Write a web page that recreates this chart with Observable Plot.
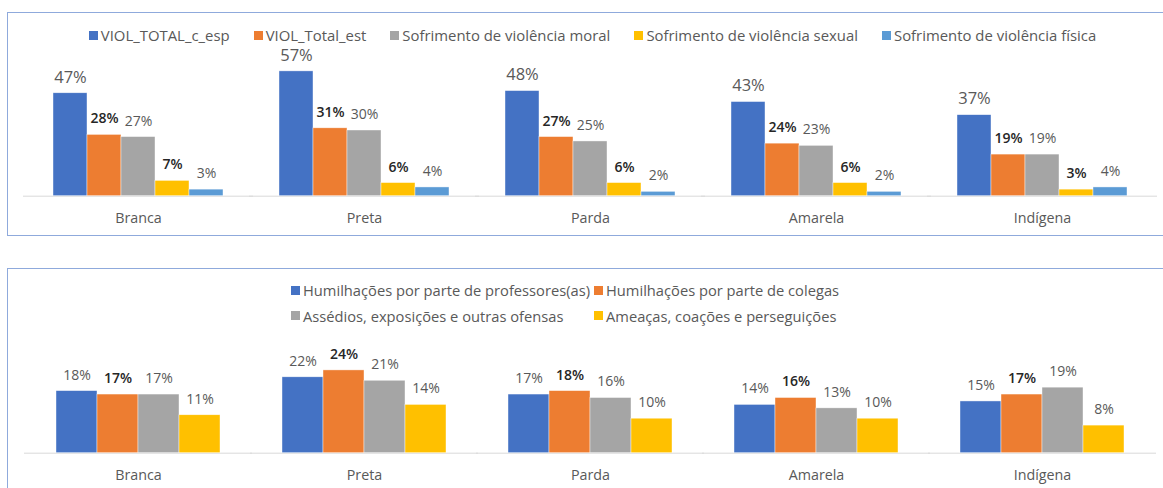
<!DOCTYPE html>
<html>
<head>
<meta charset="utf-8">
<script src="https://cdn.jsdelivr.net/npm/d3@7"></script>
<script src="https://cdn.jsdelivr.net/npm/@observablehq/plot@0.6"></script>
<style>
  html, body { margin: 0; padding: 0; background: #fff; width: 1163px; height: 488px; overflow: hidden; position: relative; font-family: "Open Sans", sans-serif; }
  .panel { position: absolute; box-sizing: border-box; border: 1px solid #8faadc; background: #fff; }
  .legend { position: absolute; color: #595959; line-height: 18px; white-space: nowrap; }
  .legend .item { display: inline-flex; align-items: center; }
  .legend .sw { width: 9px; height: 9px; display: inline-block; margin-right: 3px; }
  .chart { position: absolute; left: 0; }
  .chart svg { overflow: visible; background: transparent; }
</style>
</head>
<body>
<div class="panel" style="left:7px; top:12px; width:1200px; height:224px;"></div>
<div class="panel" style="left:7px; top:268px; width:1200px; height:260px;"></div>
<div id="legTop" class="legend" style="left:22px; width:1141px; top:26px; display:flex; justify-content:center; gap:24px; font-size:14.9px;"></div>
<div id="legBottom" class="legend" style="left:291px; top:281px; display:grid; grid-template-columns:303px auto; row-gap:7.7px; font-size:14.7px;"></div>
<div id="chartTop" class="chart" style="top:40px;"></div>
<div id="chartBottom" class="chart" style="top:330px;"></div>
<script>
const categories = ["Branca", "Preta", "Parda", "Amarela", "Indígena"];

const seriesTop = ["VIOL_TOTAL_c_esp", "VIOL_Total_est", "Sofrimento de violência moral", "Sofrimento de violência sexual", "Sofrimento de violência física"];
const violTotalCEsp = [47, 57, 48, 43, 37];
const violTotalEst = [28, 31, 27, 24, 19];
const violMoral = [27, 30, 25, 23, 19];
const violSexual = [7, 6, 6, 6, 3];
const violFisica = [3, 4, 2, 2, 4];
const colorsTop = ["#4472c4", "#ed7d31", "#a5a5a5", "#ffc000", "#5b9bd5"];

const seriesBottom = ["Humilhações por parte de professores(as)", "Humilhações por parte de colegas", "Assédios, exposições e outras ofensas", "Ameaças, coações e perseguições"];
const humProfessores = [18, 22, 17, 14, 15];
const humColegas = [17, 24, 18, 16, 17];
const assedios = [17, 21, 16, 13, 19];
const ameacas = [11, 14, 10, 10, 8];
const colorsBottom = ["#4472c4", "#ed7d31", "#a5a5a5", "#ffc000"];

function toRows(series, arrays) {
  const rows = [];
  categories.forEach((c, i) => series.forEach((s, j) => rows.push({cat: c, s, v: arrays[j][i]})));
  return rows;
}
const topRows = toRows(seriesTop, [violTotalCEsp, violTotalEst, violMoral, violSexual, violFisica]);
const bottomRows = toRows(seriesBottom, [humProfessores, humColegas, assedios, ameacas]);

const grey = "#595959", dark = "#262626";
const topLabelStyles = [
  {fontSize: 16.5, fontWeight: "normal", fill: grey},
  {fontSize: 14, fontWeight: 600, fill: dark},
  {fontSize: 14, fontWeight: "normal", fill: grey},
  {fontSize: 14, fontWeight: 600, fill: dark},
  {fontSize: 14, fontWeight: "normal", fill: grey}
];
const bottomLabelStyles = [
  {fontSize: 14, fontWeight: "normal", fill: grey},
  {fontSize: 14, fontWeight: 600, fill: dark},
  {fontSize: 14, fontWeight: "normal", fill: grey},
  {fontSize: 14, fontWeight: "normal", fill: grey}
];

function makeChart({rows, series, colors, styles, height, marginTop, marginBottom, yMax, padInner, ruleInset}) {
  return Plot.plot({
    width: 1163,
    height,
    marginLeft: 23,
    marginRight: 6,
    marginTop,
    marginBottom,
    style: {fontFamily: "Open Sans, sans-serif", background: "transparent", overflow: "visible"},
    fx: {domain: categories, paddingInner: padInner, paddingOuter: padInner / 2, axis: null},
    x: {domain: series, padding: 0, axis: null},
    y: {domain: [0, yMax], axis: null},
    color: {domain: series, range: colors},
    marks: [
      Plot.ruleY([0], {stroke: "#d9d9d9", strokeWidth: 1, insetLeft: -ruleInset, insetRight: -ruleInset}),
      Plot.barY(rows, {fx: "cat", x: "s", y: "v", fill: "s", stroke: "white", strokeWidth: 0.6, strokeOpacity: 0.7}),
      ...series.map((name, j) => Plot.text(rows, {
        filter: d => d.s === name,
        fx: "cat", x: "s", y: "v",
        text: d => d.v + "%",
        dy: -16,
        lineAnchor: "middle",
        ...styles[j]
      })),
      Plot.text(categories, {fx: d => d, text: d => d, frameAnchor: "bottom", lineAnchor: "middle", dy: 22, fontSize: 14.3, fill: grey})
    ]
  });
}

document.getElementById("chartTop").append(makeChart({
  rows: topRows, series: seriesTop, colors: colorsTop, styles: topLabelStyles,
  height: 200, marginTop: 24.3, marginBottom: 44.3, yMax: 60, padInner: 0.2282, ruleInset: 28
}));
document.getElementById("chartBottom").append(makeChart({
  rows: bottomRows, series: seriesBottom, colors: colorsBottom, styles: bottomLabelStyles,
  height: 158, marginTop: 36.45, marginBottom: 35.3, yMax: 25, padInner: 0.2725, ruleInset: 32
}));

function legendItem(name, color) {
  const it = document.createElement("span");
  it.className = "item";
  const sw = document.createElement("span");
  sw.className = "sw";
  sw.style.background = color;
  it.append(sw, document.createTextNode(name));
  return it;
}
const lt = document.getElementById("legTop");
seriesTop.forEach((s, i) => lt.append(legendItem(s, colorsTop[i])));
const lb = document.getElementById("legBottom");
seriesBottom.forEach((s, i) => lb.append(legendItem(s, colorsBottom[i])));
</script>
</body>
</html>
